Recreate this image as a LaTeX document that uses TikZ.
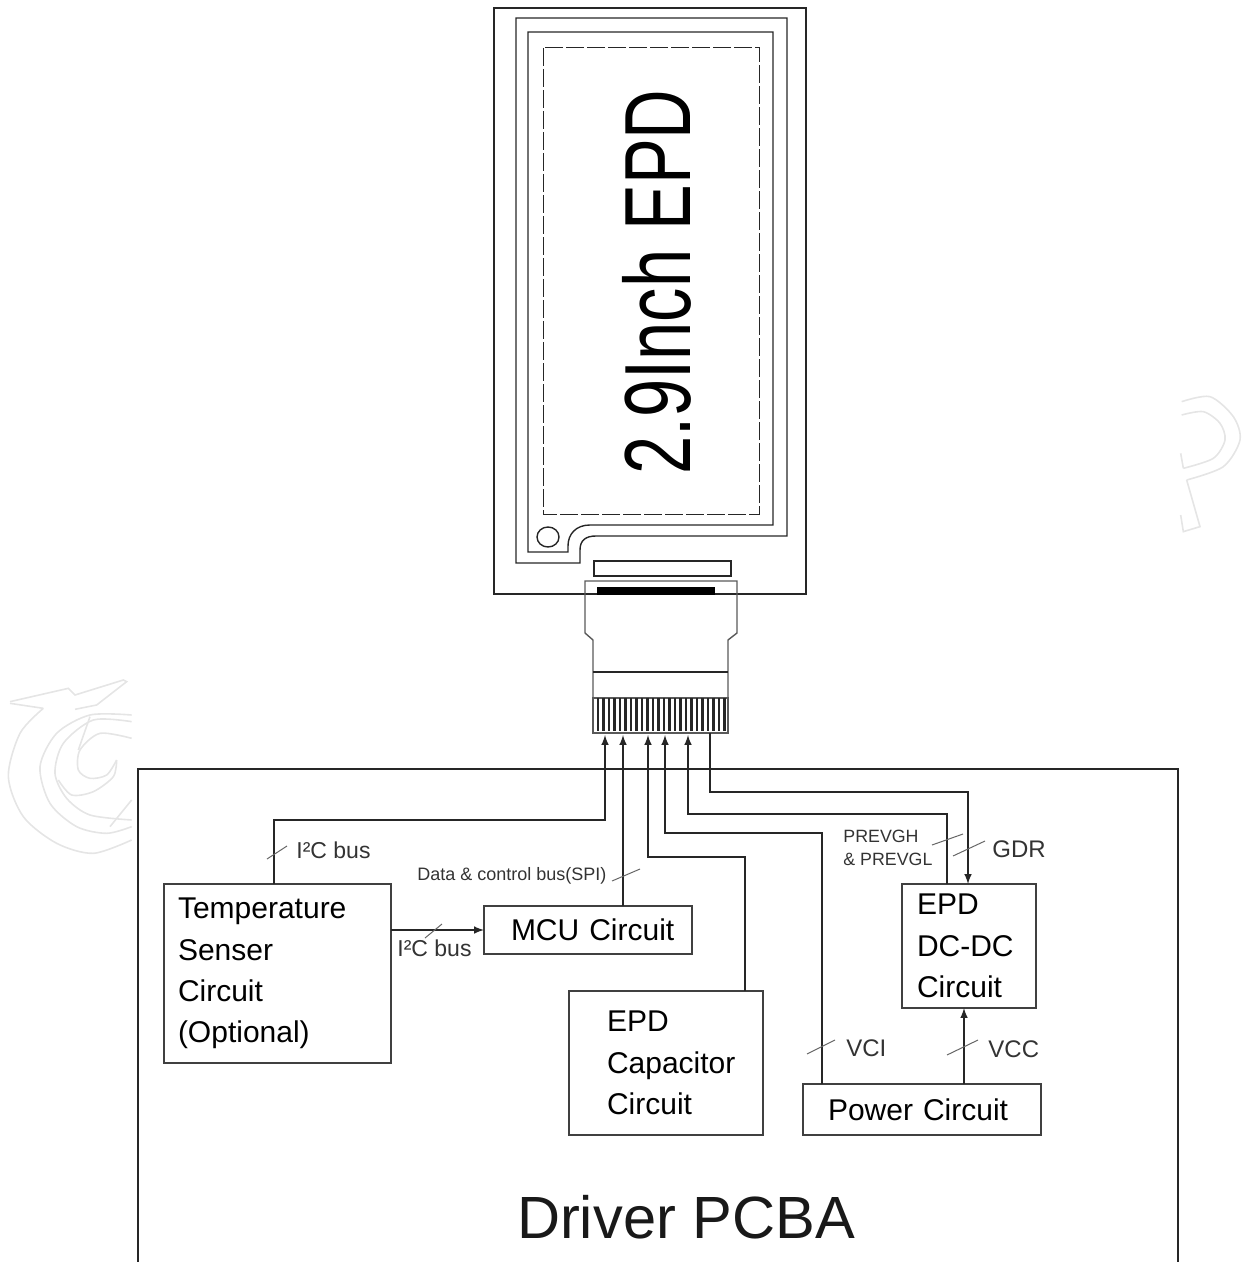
\documentclass[tikz,border=0pt]{standalone}
\usepackage{fontspec}
\setmainfont{Liberation Sans}
\usetikzlibrary{calc}
\tikzset{
	box/.style={draw=black!75, line width=0.8pt, outer sep=0pt, anchor=north west, align=left, inner xsep=0pt, inner ysep=0pt, font=\fontsize{15}{20.7}\selectfont},
	wire/.style={line width=0.7pt, color=black!85},
	tick/.style={line width=0.5pt, color=black!60},
	outline/.style={line width=0.7pt, color=black!85},
	label/.style={anchor=west, inner sep=0pt, color=black!80, font=\fontsize{12}{14}\selectfont},
	wmark/.style={line width=0.8pt, color=black!10},
}
\begin{document}
\begin{tikzpicture}[x=0.5pt, y=-0.5pt]
		%%%%% PAGE %%%%%
		\useasboundingbox (0, 0) rectangle (1241, 1262);
		
		%%%%% WATERMARKS %%%%%
		\begin{scope}[shift={(0, 670)}, scale=0.3333]
			\draw[wmark] (30, 95) -- (205, 55) -- (225, 75) -- (370, 30) -- (380, 35) -- (290, 105) -- (225, 118);
			\draw[wmark] (30, 100) -- (130, 115);
			\draw[wmark] plot[smooth] coordinates {(130, 115) (60, 190) (25, 320) (70, 440) (170, 520) (280, 550) (395, 510)};
			\draw[wmark] plot[smooth] coordinates {(395, 135) (270, 135) (170, 190) (120, 290) (150, 400) (230, 470) (320, 490) (395, 470)};
			\draw[wmark] plot[smooth] coordinates {(395, 155) (280, 150) (190, 220) (165, 310) (200, 385) (270, 435) (395, 450)};
			\draw[wmark] plot[smooth] coordinates {(395, 205) (300, 190) (240, 240) (235, 300) (270, 325) (320, 315) (350, 270)};
			\draw[wmark] plot[smooth] coordinates {(350, 270) (340, 320) (280, 365) (215, 375) (175, 330)};
			\draw[wmark] (270, 140) -- (235, 240);
			\draw[wmark] (395, 390) -- (330, 470);
		\end{scope}
		\begin{scope}[shift={(1160, 380)}, scale=0.3333]
			\draw[wmark] plot[smooth] coordinates {(65, 65) (150, 50) (220, 110) (240, 180) (190, 260) (80, 300)};
			\draw[wmark] (80, 300) -- (120, 440) -- (70, 455) -- (62, 405);
			\draw[wmark] plot[smooth] coordinates {(65, 105) (130, 95) (180, 130) (195, 180) (160, 235) (70, 265)};
			\draw[wmark] (70, 265) -- (62, 220);
		\end{scope}
		
		%%%%% PANEL %%%%%
		\draw[outline] (494, 8) rectangle (806, 594);
		\draw[outline] (516, 18) -- (787, 18) -- (787, 536) -- (596, 536) .. controls (586, 536) and (580, 540) .. (580, 550) -- (580, 563) -- (516, 563) -- cycle;
		\draw[outline] (528, 32) -- (773, 32) -- (773, 525) -- (590, 525) .. controls (576, 525) and (568, 534) .. (568, 546) -- (568, 552) -- (528, 552) -- cycle;
		\draw[outline, dashed, dash pattern=on 9pt off 1.5pt, line width=0.5pt] (543, 48) rectangle (759, 514);
		\draw[outline] (548, 537) ellipse (11 and 10);
		\draw[outline] (594, 561) rectangle (731, 576);
		\node[rotate=90, xscale=0.73, transform shape, inner sep=0pt, font=\fontsize{47}{47}\selectfont] (panelname) at (657, 282) {2.9Inch EPD};
		
		%%%%% FLEX %%%%%
		\draw[outline, color=black!65] (593, 698) -- (593, 640) -- (585, 633) -- (585, 581) -- (737, 581) -- (737, 633) -- (728, 640) -- (728, 698);
		\draw[fill=black] (597, 587) rectangle (714, 594);
		\draw[outline] (593, 672) -- (728, 672);
		\draw[outline, color=black!65] (593, 698) rectangle (728, 733);
		\foreach \i in {0,...,23} {
			\draw[line width=1.2pt, color=black!85] ({598+\i*5.5}, 698) -- ({598+\i*5.5}, 731);
		}
		
		%%%%% DRIVER BOARD %%%%%
		\draw[outline] (138, 1262) -- (138, 769) -- (1178, 769) -- (1178, 1262);
		\node[font=\fontsize{29.8}{29.8}\selectfont, inner sep=0pt, color=black!90] (boardname) at (686, 1217) {Driver PCBA};
		
		\node[box, minimum width=113.5pt, minimum height=89.5pt, inner xsep=7pt, text width=99.5pt] (temp) at (164, 884) {Temperature\\Senser\\Circuit\\(Optional)};
		\node[box, minimum width=104pt, minimum height=24pt, text width=104pt] (mcu) at (484, 906) {\hspace*{13.5pt}MCU Circuit};
		\node[box, minimum width=97pt, minimum height=72pt, inner xsep=19pt, text width=59pt] (cap) at (569, 991) {EPD\\Capacitor\\Circuit};
		\node[box, minimum width=119pt, minimum height=25.5pt, inner xsep=12.5pt, text width=94pt] (power) at (803, 1084) {Power Circuit};
		\node[box, minimum width=67pt, minimum height=62pt, inner xsep=7.5pt, text width=52pt] (dcdc) at (902, 884) {EPD\\DC-DC\\Circuit};
		
		%%%%% PINS %%%%%
		\coordinate (pina) at (605, 735);
		\coordinate (pinb) at (623, 735);
		\coordinate (pinc) at (648, 735);
		\coordinate (pind) at (665, 735);
		\coordinate (pine) at (688, 735);
		\coordinate (pinf) at (710, 733);
		
		%%%%% WIRES %%%%%
		\draw[wire, -latex] (temp.north -| 274, 0) -- (274, 820) -- (605, 820) -- (pina);
		\draw[wire, -latex] (mcu.north -| pinb) -- (pinb);
		\draw[wire, -latex] (cap.north -| 745, 0) -- (745, 857) -- (648, 857) -- (pinc);
		\draw[wire, -latex] (power.north -| 822, 0) -- (822, 833) -- (665, 833) -- (pind);
		\draw[wire, -latex] (dcdc.north -| 947, 0) -- (947, 814) -- (688, 814) -- (pine);
		\draw[wire, latex-] (dcdc.north -| 968, 0) -- (968, 792) -- (710, 792) -- (pinf);
		\draw[wire, -latex] (power.north -| 964, 0) -- (dcdc.south -| 964, 0);
		\draw[wire, -latex] (temp.east |- 0, 930) -- (mcu.west |- 0, 930);
		
		%%%%% BUS TICKS %%%%%
		\draw[tick] (267, 859) -- (287, 846);
		\draw[tick] (425, 938) -- (442, 924);
		\draw[tick] (612, 881) -- (640, 869);
		\draw[tick] (932, 845) -- (963, 834);
		\draw[tick] (953, 856) -- (985, 841);
		\draw[tick] (807, 1054) -- (835, 1040);
		\draw[tick] (947, 1055) -- (978, 1040);
		
		%%%%% LABELS %%%%%
		\node[label, font=\fontsize{11.5}{14}\selectfont] (busa) at (296, 850) {I²C bus};
		\node[label, font=\fontsize{11.5}{14}\selectfont] (busb) at (397, 948) {I²C bus};
		\node[label, font=\fontsize{9}{10}\selectfont] (spi) at (417, 876) {Data \& control bus(SPI)};
		\node[label, font=\fontsize{8.9}{11.5}\selectfont, align=left] (prev) at (843, 848) {PREVGH\\\& PREVGL};
		\node[label] (gdr) at (992, 849) {GDR};
		\node[label] (vci) at (846, 1048) {VCI};
		\node[label] (vcc) at (988, 1049) {VCC};
		
		%%%%% END %%%%%
	\end{tikzpicture}
\end{document}
